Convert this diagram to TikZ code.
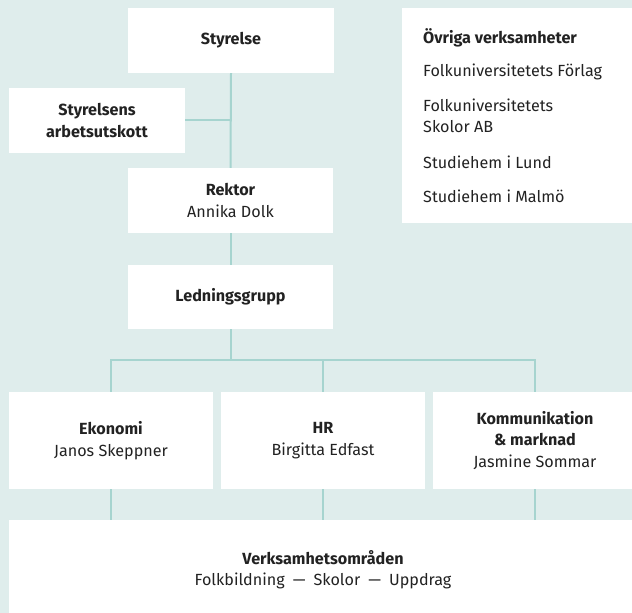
\documentclass[tikz,border=0pt]{standalone}
\usepackage{fontspec}
\setmainfont{Fira Sans}
\definecolor{bgc}{HTML}{DFEDEC}
\definecolor{linec}{HTML}{A6D4CF}
\definecolor{txt}{HTML}{222222}
\begin{document}
\begin{tikzpicture}[x=1bp,y=-1bp,
  box/.style={fill=white,draw=none,inner sep=0pt,align=center,text=txt,
    font=\fontsize{16.2}{21.5}\selectfont},
  lbl/.style={inner sep=0pt,anchor=west,text=txt,font=\fontsize{16.2}{21.5}\selectfont,align=left},
  conn/.style={draw=linec,line width=2bp}]
\fill[bgc] (0,0) rectangle (632,613);
\useasboundingbox (0,0) rectangle (632,613);
% boxes
\node[box,minimum width=206bp,minimum height=65bp] (sty) at (231,40.5) {\textbf{Styrelse}};
\node[box,minimum width=176bp,minimum height=65bp] (arb) at (97,120.5) {\textbf{Styrelsens}\\\textbf{arbetsutskott}};
\node[box,minimum width=205bp,minimum height=65bp] (rek) at (230.5,200.5) {\textbf{Rektor}\\Annika Dolk};
\node[box,minimum width=205bp,minimum height=64bp] (led) at (230.5,297) {\textbf{Ledningsgrupp}};
\node[box,minimum width=204bp,minimum height=97bp] (eko) at (111,440.5) {\textbf{Ekonomi}\\Janos Skeppner};
\node[box,minimum width=204bp,minimum height=97bp] (hr) at (323,440.5) {\textbf{HR}\\Birgitta Edfast};
\node[box,minimum width=204bp,minimum height=97bp] (kom) at (535,440.5) {\textbf{Kommunikation}\\\textbf{\& marknad}\\Jasmine Sommar};
\node[box,minimum width=631bp,minimum height=100bp,anchor=north west] (verk) at (9,520) {};
\node[box] (verkt) at (323,569.5) {\textbf{Verksamhetsområden}\\Folkbildning\enspace—\enspace Skolor\enspace—\enspace Uppdrag};
\node[box,minimum width=240bp,minimum height=215bp,anchor=north west] (ovr) at (402,8) {};
\node[lbl] (ov1) at (423,38) {\textbf{Övriga verksamheter}};
\node[lbl] (ov2) at (423,72) {Folkuniversitetets Förlag};
\node[lbl] (ov3) at (423,116) {Folkuniversitetets\\Skolor AB};
\node[lbl] (ov4) at (423,162) {Studiehem i Lund};
\node[lbl] (ov5) at (423,196) {Studiehem i Malmö};
% connectors
\coordinate (j1) at (sty.south |- arb.east);
\coordinate (bl) at (eko.north |- 0,360);
\coordinate (br) at (kom.north |- 0,360);
\coordinate (bm) at (led.south |- 0,360);
\draw[conn] (sty.south) -- (rek.north);
\draw[conn] (arb.east) -- (j1);
\draw[conn] (rek.south) -- (led.south |- rek.south) -- (led.north);
\draw[conn] (led.south) -- (bm);
\draw[conn] (eko.north) -- (bl) -- (br) -- (kom.north);
\draw[conn] (hr.north) -- (hr.north |- bl);
\draw[conn] (eko.south) -- (eko.south |- verk.north);
\draw[conn] (hr.south) -- (hr.south |- verk.north);
\draw[conn] (kom.south) -- (kom.south |- verk.north);
\end{tikzpicture}
\end{document}
